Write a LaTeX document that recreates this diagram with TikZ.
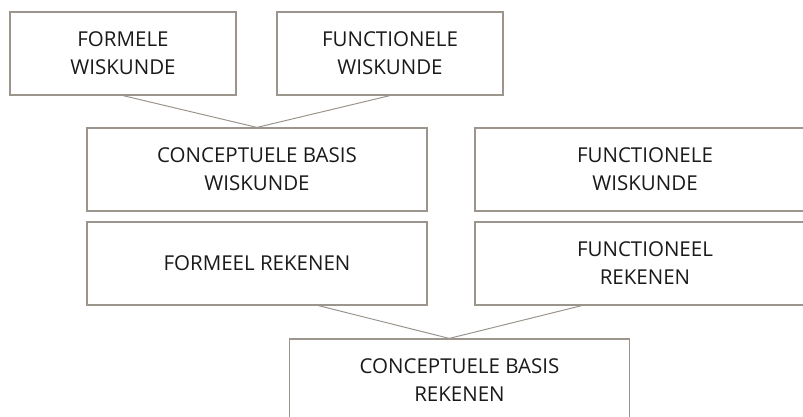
\documentclass[tikz,border=0pt]{standalone}
\usepackage{fontspec}
\setmainfont{Open Sans}
\usetikzlibrary{calc}
\definecolor{linegray}{HTML}{9C958D}
\definecolor{textblack}{HTML}{1A1A1A}

\begin{document}
\begin{tikzpicture}[
    x=1pt, y=-1pt,
    box/.style={draw=linegray, line width=1.2pt, minimum width=340pt, minimum height=83pt, align=center, inner sep=0pt, text=textblack, font=\fontsize{20.5}{28}\selectfont},
    smallbox/.style={box, minimum width=226pt},
    link/.style={draw=linegray, line width=1pt},
]
    \clip (0,0) rectangle (803,417);

    \node[smallbox] (formwisk) at (123, 53.5) {FORMELE\\WISKUNDE};
    \node[smallbox] (funcwisktop) at (390, 53.5) {FUNCTIONELE\\WISKUNDE};

    \node[box] (basiswisk) at (257, 169.5) {CONCEPTUELE BASIS\\WISKUNDE};
    \node[box] (funcwisk) at (645, 169.5) {FUNCTIONELE\\WISKUNDE};

    \node[box] (formrek) at (257, 263.5) {FORMEEL REKENEN};
    \node[box] (funcrek) at (645, 263.5) {FUNCTIONEEL\\REKENEN};

    \node[box] (basisrek) at (459.5, 380.5) {CONCEPTUELE BASIS\\REKENEN};

    \draw[link] (formwisk.south) -- (basiswisk.north);
    \draw[link] (funcwisktop.south) -- (basiswisk.north);
    \draw[link] ($(formrek.south west)!0.68!(formrek.south east)$) -- ($(basisrek.north west)!0.47!(basisrek.north east)$);
    \draw[link] ($(funcrek.south west)!0.315!(funcrek.south east)$) -- ($(basisrek.north west)!0.47!(basisrek.north east)$);
\end{tikzpicture}
\end{document}
